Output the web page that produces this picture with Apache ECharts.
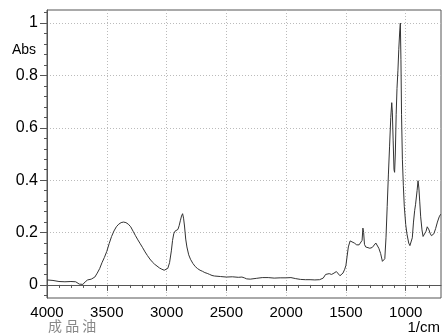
<!DOCTYPE html>
<html>
<head>
<meta charset="utf-8">
<script src="https://cdn.jsdelivr.net/npm/echarts@6/dist/echarts.min.js"></script>
<style>
html,body{margin:0;padding:0;background:#fff;}
#chart{width:443px;height:335px;}
</style>
</head>
<body>
<div id="chart"></div>
<script>
// Wavenumber (1/cm) and absorbance values
const wavenumbers = [
  4000,3950,3900,3850,3800,3760,3730,3700,3680,3660,3630,3600,3580,3560,3540,3520,
  3500,3480,3460,3440,3420,3400,3380,3360,3340,3320,3300,3280,3260,3240,3220,3200,
  3180,3160,3140,3120,3100,3080,3060,3040,3020,3005,2990,2975,2960,2950,2940,2930,
  2915,2905,2895,2885,2875,2866,2858,2850,2840,2830,2815,2800,2780,2760,2740,2720,
  2700,2680,2660,2640,2620,2600,2550,2500,2450,2400,2370,2350,2330,2300,2250,2200,
  2150,2100,2050,2000,1960,1920,1880,1840,1800,1760,1720,1690,1670,1655,1640,1620,
  1600,1580,1565,1550,1540,1525,1510,1500,1490,1480,1465,1450,1430,1410,1390,1375,
  1365,1358,1352,1345,1335,1320,1300,1280,1265,1250,1240,1225,1210,1195,1185,1175,
  1165,1155,1145,1135,1125,1117,1112,1105,1098,1093,1087,1080,1073,1065,1058,1050,
  1045,1040,1035,1028,1020,1012,1000,990,975,965,955,945,935,925,918,913,
  905,897,890,883,875,864,855,848,840,830,820,813,805,797,785,777,
  765,750,735,720,708
];
const absorbance = [
  0.019,0.017,0.013,0.012,0.013,0.012,0.003,0.002,0.012,0.019,0.022,0.030,0.045,0.062,0.085,0.105,
  0.128,0.158,0.185,0.206,0.222,0.232,0.238,0.240,0.238,0.232,0.222,0.205,0.188,0.172,0.157,0.142,
  0.126,0.112,0.099,0.088,0.079,0.072,0.065,0.060,0.056,0.055,0.063,0.085,0.130,0.170,0.195,0.205,
  0.209,0.212,0.226,0.245,0.263,0.272,0.255,0.225,0.175,0.145,0.115,0.098,0.082,0.070,0.062,0.056,
  0.052,0.047,0.044,0.040,0.036,0.034,0.032,0.030,0.031,0.029,0.030,0.027,0.023,0.022,0.025,0.028,
  0.028,0.026,0.027,0.027,0.028,0.024,0.021,0.020,0.020,0.019,0.020,0.026,0.040,0.046,0.043,0.040,
  0.045,0.051,0.045,0.035,0.033,0.045,0.060,0.075,0.110,0.145,0.168,0.172,0.160,0.153,0.153,0.155,
  0.170,0.217,0.200,0.155,0.145,0.142,0.140,0.143,0.150,0.160,0.158,0.140,0.120,0.090,0.083,0.100,
  0.180,0.300,0.420,0.530,0.640,0.696,0.660,0.550,0.440,0.430,0.500,0.650,0.750,0.820,0.900,0.970,
  1.000,0.860,0.650,0.480,0.380,0.300,0.230,0.195,0.160,0.150,0.147,0.180,0.240,0.285,0.306,0.300,
  0.360,0.398,0.370,0.320,0.260,0.210,0.185,0.178,0.185,0.205,0.222,0.223,0.210,0.198,0.188,0.185,
  0.195,0.215,0.240,0.260,0.270
];
const xTickLabels = [4000,3500,3000,2500,2000,1500,1000];
const yTickLabels = [0,0.2,0.4,0.6,0.8,1];
const xRange = [705, 4000];
const yRange = [-0.05, 1.05];

const seriesData = wavenumbers.map((w, i) => [w, absorbance[i]]);

const chart = echarts.init(document.getElementById('chart'), null, {renderer: 'canvas'});
const axisColor = '#555';
const labelFont = 'Liberation Sans, Arial, sans-serif';

chart.setOption({
  animation: false,
  backgroundColor: '#fff',
  grid: {
    left: 47, top: 10, width: 394, height: 288,
    show: true, borderColor: axisColor, borderWidth: 1, backgroundColor: 'transparent'
  },
  xAxis: {
    type: 'value',
    inverse: true,
    min: xRange[0], max: xRange[1],
    splitNumber: 7,
    axisLine: {show: true, lineStyle: {color: axisColor, width: 1}},
    axisTick: {show: true, length: 6, customValues: xTickLabels, lineStyle: {color: axisColor}},
    minorTick: {show: true, splitNumber: 5, length: 3, lineStyle: {color: axisColor}},
    axisLabel: {
      customValues: xTickLabels,
      color: '#000', fontSize: 15, fontFamily: labelFont, margin: 7,
      formatter: v => String(v)
    },
    splitLine: {show: true, lineStyle: {color: '#bbb', type: [1, 2], width: 1}}
  },
  yAxis: {
    type: 'value',
    min: yRange[0], max: yRange[1],
    splitNumber: 5,
    axisLine: {show: true, lineStyle: {color: axisColor, width: 1}},
    axisTick: {show: true, length: 7, customValues: yTickLabels, lineStyle: {color: axisColor}},
    minorTick: {show: true, splitNumber: 5, length: 3, lineStyle: {color: axisColor}},
    axisLabel: {
      customValues: yTickLabels,
      color: '#000', fontSize: 16, fontFamily: labelFont, margin: 9,
      formatter: v => String(v)
    },
    splitLine: {show: true, lineStyle: {color: '#bbb', type: [1, 2], width: 1}}
  },
  graphic: [
    {type: 'text', left: 12, top: 43, style: {text: 'Abs', fontSize: 14, fontFamily: labelFont, fill: '#000'}},
    {type: 'text', right: 3, top: 320, style: {text: '1/cm', fontSize: 15, fontFamily: labelFont, fill: '#000'}},
    {type: 'text', left: 48, top: 319, style: {text: '成 品 油', fontSize: 14, fontFamily: 'Noto Sans CJK SC', fill: '#888'}}
  ],
  series: [{
    type: 'line',
    data: seriesData,
    showSymbol: false,
    smooth: false,
    lineStyle: {color: '#333', width: 1}
  }]
});
</script>
</body>
</html>
